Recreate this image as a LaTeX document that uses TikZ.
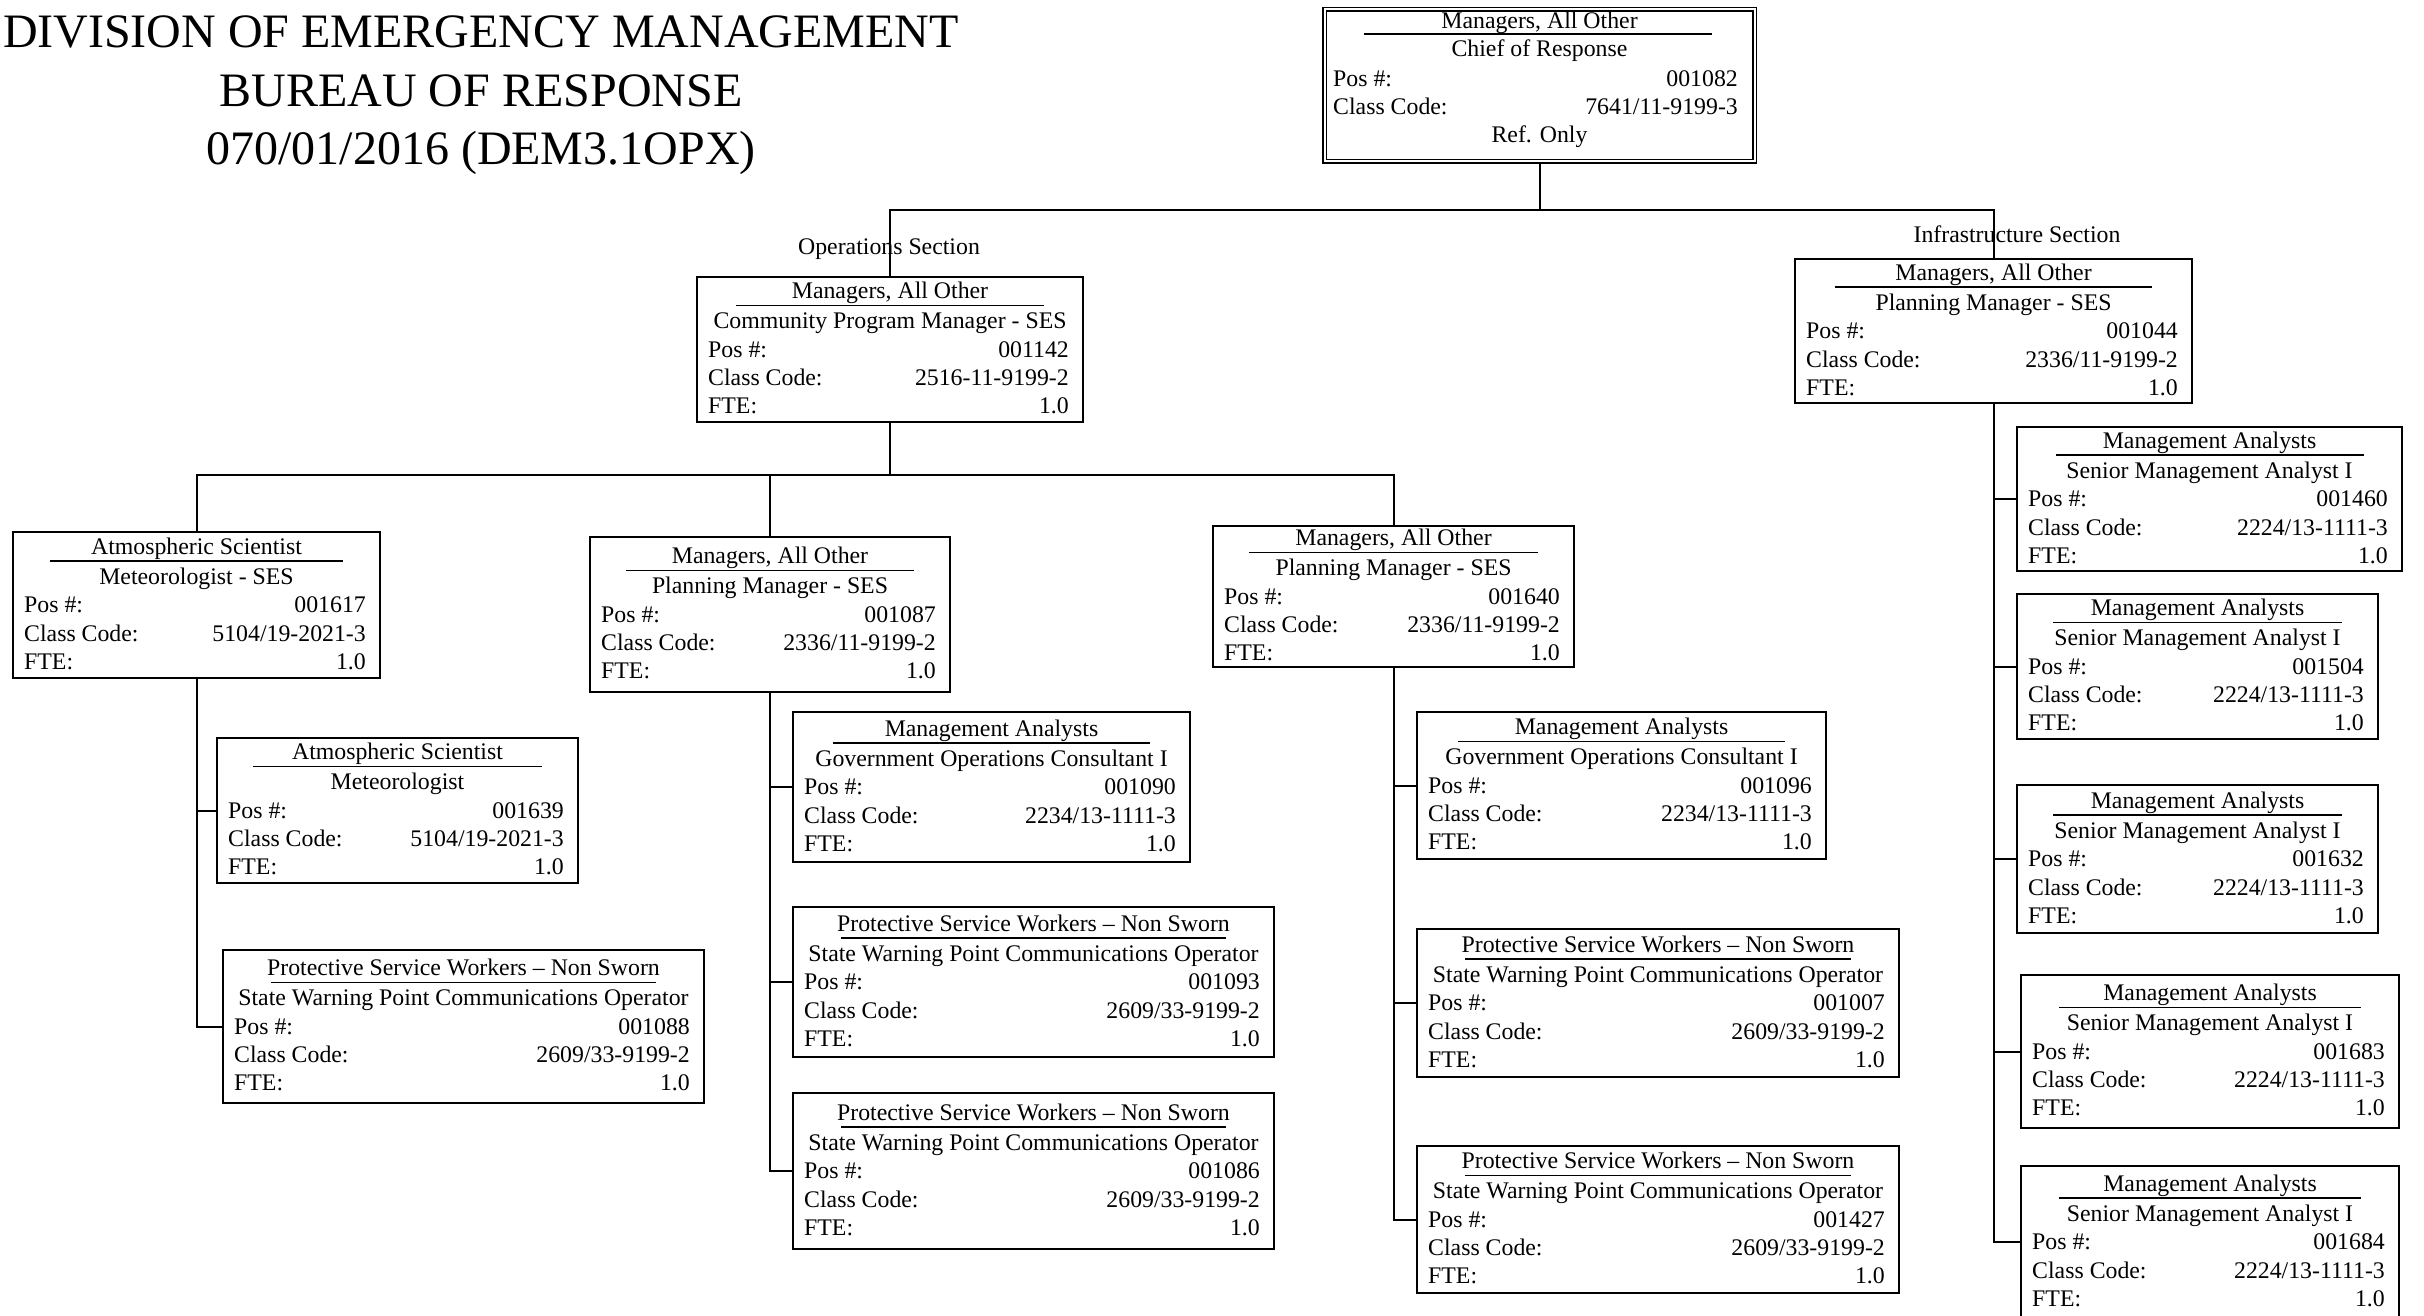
\documentclass[tikz,border=0pt]{standalone}
\usepackage{fontspec}
\setmainfont{Liberation Serif}
\usetikzlibrary{fit}

\tikzset{
  box/.style={draw, line width=2pt, rectangle, inner sep=0pt, fill=white},
  conn/.style={line width=2pt},
  rulebar/.style={line width=1.6pt},
  txt/.style={inner sep=0pt, font=\fontsize{23.8}{28}\selectfont},
  heading/.style={inner sep=0pt, anchor=base, font=\fontsize{48}{57}\selectfont},
}

% #1 name, #2 left, #3 top, #4 right, #5 bottom,
% #6 occupation, #7 working title, #8 position number, #9 class code
\newcommand\rolebox[9]{%
  \node[box, fit={(#2,#3)(#4,#5)}] (#1) {};
  \pgfmathsetmacro\bxc{(#2+#4)/2}%
  \pgfmathsetmacro\byc{(#3+#5)/2}%
  \pgfmathsetmacro\rla{#2+0.1*(#4-#2)}%
  \pgfmathsetmacro\rlb{#4-0.1*(#4-#2)}%
  \node[txt, anchor=base] (#1-occ) at (\bxc,\byc-51) {#6};
  \draw[rulebar] (\rla,\byc-44) -- (\rlb,\byc-44);
  \node[txt, anchor=base] (#1-title) at (\bxc,\byc-21) {#7};
  \node[txt, anchor=base west] (#1-posl) at (#2+11,\byc+7.5) {Pos \#:};
  \node[txt, anchor=base east] (#1-posv) at (#4-14,\byc+7.5) {#8};
  \node[txt, anchor=base west] (#1-ccl) at (#2+11,\byc+36) {Class Code:};
  \node[txt, anchor=base east] (#1-ccv) at (#4-14,\byc+36) {#9};
  \node[txt, anchor=base west] (#1-ftel) at (#2+11,\byc+64) {FTE:};
  \node[txt, anchor=base east] (#1-ftev) at (#4-14,\byc+64) {1.0};
}

\newcommand\pswtitle{Protective Service Workers – Non Sworn}
\newcommand\swpco{State Warning Point Communications Operator}

\begin{document}
\begin{tikzpicture}[x=1pt,y=-1pt]
\fill[white] (0,0) rectangle (2424,1316);
\useasboundingbox (0,0) rectangle (2424,1316);
\clip (0,0) rectangle (2424,1316);

% heading
\node[heading] (h1) at (481,48) {DIVISION OF EMERGENCY MANAGEMENT};
\node[heading] (h2) at (481,107) {BUREAU OF RESPONSE};
\node[heading] (h3) at (481,165) {070/01/2016 (DEM3.1OPX)};

% section captions
\node[txt, anchor=base] (opsec) at (889,254) {Operations Section};
\node[txt, anchor=base] (infsec) at (2017,242) {Infrastructure Section};

% chief of response (double frame)
\node[box, double, double distance=2pt, line width=1.8pt,
      fit={(1324.5,9.5)(1754.5,161.5)}] (chief) {};
\node[txt, anchor=base] (chief-occ) at (1539.5,29) {Managers, All Other};
\draw[rulebar] (1364,34) -- (1712,34);
\node[txt, anchor=base] (chief-title) at (1539.5,57) {Chief of Response};
\node[txt, anchor=base west] (chief-posl) at (1333,86.5) {Pos \#:};
\node[txt, anchor=base east] (chief-posv) at (1738,86.5) {001082};
\node[txt, anchor=base west] (chief-ccl) at (1333,115) {Class Code:};
\node[txt, anchor=base east] (chief-ccv) at (1738,115) {7641/11-9199-3};
\node[txt, anchor=base] (chief-ref) at (1539.5,143) {Ref. Only};

% position boxes
\rolebox{ops}{697}{277}{1083}{422}{Managers, All Other}{Community Program Manager - SES}{001142}{2516-11-9199-2}
\rolebox{infra}{1795}{259}{2192}{403}{Managers, All Other}{Planning Manager - SES}{001044}{2336/11-9199-2}

\rolebox{met1}{13}{532}{380}{678}{Atmospheric Scientist}{Meteorologist - SES}{001617}{5104/19-2021-3}
\rolebox{met2}{217}{738}{578}{883}{Atmospheric Scientist}{Meteorologist}{001639}{5104/19-2021-3}
\rolebox{psw0}{223}{950}{704}{1103}{\pswtitle}{\swpco}{001088}{2609/33-9199-2}

\rolebox{pm1}{590}{537}{950}{692}{Managers, All Other}{Planning Manager - SES}{001087}{2336/11-9199-2}
\rolebox{goc1}{793}{712}{1190}{862}{Management Analysts}{Government Operations Consultant I}{001090}{2234/13-1111-3}
\rolebox{psw1}{793}{907}{1274}{1057}{\pswtitle}{\swpco}{001093}{2609/33-9199-2}
\rolebox{psw2}{793}{1093}{1274}{1249}{\pswtitle}{\swpco}{001086}{2609/33-9199-2}

\rolebox{pm2}{1213}{526}{1574}{667}{Managers, All Other}{Planning Manager - SES}{001640}{2336/11-9199-2}
\rolebox{goc2}{1417}{712}{1826}{859}{Management Analysts}{Government Operations Consultant I}{001096}{2234/13-1111-3}
\rolebox{psw3}{1417}{929}{1899}{1077}{\pswtitle}{\swpco}{001007}{2609/33-9199-2}
\rolebox{psw4}{1417}{1146}{1899}{1293}{\pswtitle}{\swpco}{001427}{2609/33-9199-2}

\rolebox{ma1}{2017}{427}{2402}{571}{Management Analysts}{Senior Management Analyst I}{001460}{2224/13-1111-3}
\rolebox{ma2}{2017}{594}{2378}{739}{Management Analysts}{Senior Management Analyst I}{001504}{2224/13-1111-3}
\rolebox{ma3}{2017}{785}{2378}{933}{Management Analysts}{Senior Management Analyst I}{001632}{2224/13-1111-3}
\rolebox{ma4}{2021}{975}{2399}{1128}{Management Analysts}{Senior Management Analyst I}{001683}{2224/13-1111-3}
\rolebox{ma5}{2021}{1166}{2399}{1318}{Management Analysts}{Senior Management Analyst I}{001684}{2224/13-1111-3}

% reporting lines
\coordinate (busA) at (0,210);
\coordinate (busB) at (0,475);
\draw[conn] (chief.south) -- (chief.south |- busA);
\draw[conn] (ops.north) |- (busA -| infra.north) -- (infra.north);

\draw[conn] (ops.south) -- (ops.south |- busB);
\draw[conn] (met1.north) |- (busB -| pm2.north) -- (pm2.north);
\draw[conn] (pm1.north) -- (pm1.north |- busB);

\draw[conn] (met1.south) |- (met2.west);
\draw[conn] (met1.south) |- (psw0.west);

\draw[conn] (pm1.south) |- (goc1.west);
\draw[conn] (pm1.south) |- (psw1.west);
\draw[conn] (pm1.south) |- (psw2.west);

\draw[conn] (pm2.south) |- (goc2.west);
\draw[conn] (pm2.south) |- (psw3.west);
\draw[conn] (pm2.south) |- (psw4.west);

\draw[conn] (infra.south) |- (ma1.west);
\draw[conn] (infra.south) |- (ma2.west);
\draw[conn] (infra.south) |- (ma3.west);
\draw[conn] (infra.south) |- (ma4.west);
\draw[conn] (infra.south) |- (ma5.west);
\end{tikzpicture}
\end{document}
